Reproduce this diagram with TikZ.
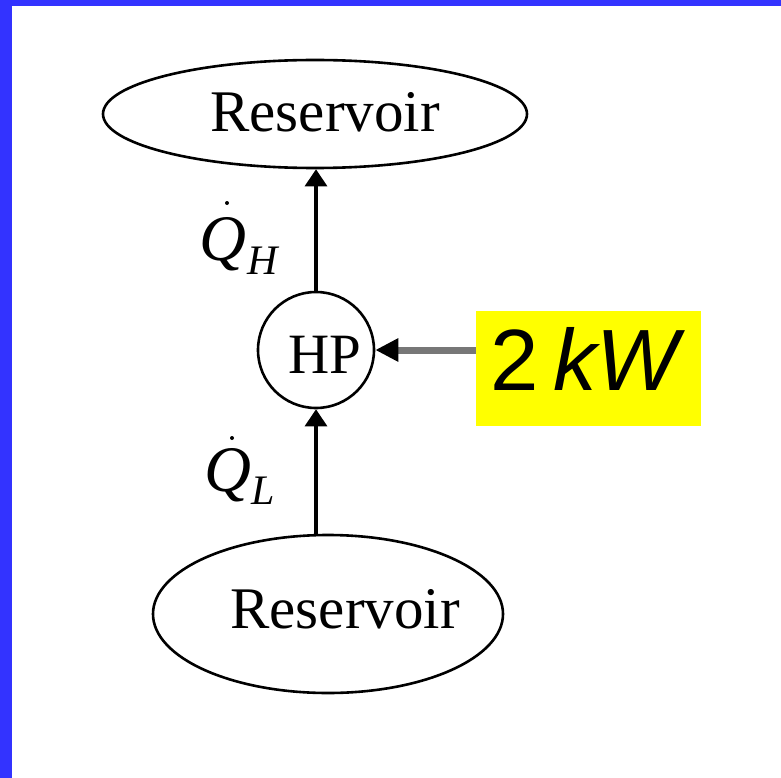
\documentclass[tikz,border=0pt]{standalone}
\usepackage{fontspec}
\setmainfont{Liberation Serif}
\newfontfamily\arialf{Liberation Sans}
\usetikzlibrary{shapes.geometric,arrows.meta}
\definecolor{bordblue}{HTML}{3333FF}
\definecolor{arrgray}{HTML}{777777}
\definecolor{boxyellow}{HTML}{FFFF00}
\begin{document}
\begin{tikzpicture}[x=1pt,y=-1pt,
  res/.style={draw,ellipse,line width=2.6pt,inner sep=0pt},
  hpc/.style={draw,circle,line width=2.6pt,inner sep=0pt,minimum size=116pt},
  txt/.style={inner sep=0pt,anchor=base},
  arr/.style={line width=3.2pt,-{Triangle[length=17pt,width=22pt]}},
  grayarr/.style={line width=7pt,draw=arrgray,-{Triangle[length=23pt,width=22pt,color=black]}},
  qlab/.style={inner sep=0pt,anchor=base west,font=\fontsize{65}{65}\selectfont\itshape}]
\useasboundingbox (0,0) rectangle (781,778);
\fill[white] (0,0) rectangle (781,778);
\fill[bordblue] (0,0) rectangle (12,778);
\fill[bordblue] (0,0) rectangle (781,6);
% reservoirs
\node[res,minimum width=424pt,minimum height=108pt] (top) at (315,114) {};
\node[txt,font=\fontsize{59}{59}\selectfont] (toptxt) at (325,132) {Reservoir};
\node[res,minimum width=350pt,minimum height=158pt] (bot) at (328,614) {};
\node[txt,font=\fontsize{59}{59}\selectfont] (bottxt) at (345,628) {Reservoir};
% heat pump
\node[hpc] (hp) at (316,350) {};
\node[txt,font=\fontsize{57}{57}\selectfont] (hptxt) at (325,373) {HP};
% arrows
\draw[arr] (hp.north) -- (hp.north |- top.south);
\draw[arr] (hp.south |- bot.north) -- (hp.south);
% work box
\node[fill=boxyellow,inner sep=0pt,minimum width=225pt,minimum height=115pt] (kw) at (588.5,368.5) {};
\node[inner sep=0pt,anchor=base west,font=\fontsize{87}{87}\selectfont\arialf] (kwtxt) at (490,390) {2\,\itshape kW};
\draw[grayarr] (kw.west |- hp.east) -- (hp.east);
% heat labels
\node[qlab] (qh) at (199,260) {Q\hspace{1pt}\raisebox{-0.22em}{\fontsize{42}{42}\selectfont H}};
\fill (227,203) circle (2pt);
\node[qlab] (ql) at (204,491) {Q\raisebox{-0.2em}{\fontsize{42}{42}\selectfont L}};
\fill (232,438) circle (2pt);
\end{tikzpicture}
\end{document}
